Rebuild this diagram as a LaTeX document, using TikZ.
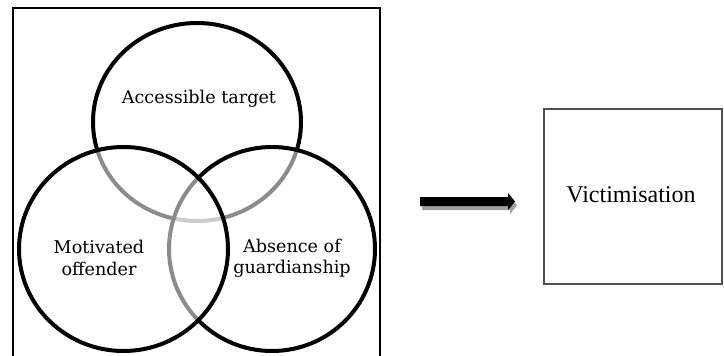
\documentclass[tikz,border=0pt]{standalone}
\usepackage{fontspec}
\setmainfont{Liberation Serif}
\newfontfamily\vennfont{DejaVu Serif}
\usetikzlibrary{shapes.geometric}

\begin{document}
\begin{tikzpicture}[x=0.75pt,y=0.75pt,yscale=-1,xscale=1,
  venn/.style={ellipse, draw, line width=3pt, fill=white, fill opacity=0.55, draw opacity=1, inner sep=0pt},
  vennlabel/.style={inner sep=0.75pt, align=center, font=\vennfont\fontsize{13.2}{16}\selectfont}]
\useasboundingbox (0,0) rectangle (724,356);
\clip (0,0) rectangle (724,356);

%Shape: Frame [id:frame]
\draw [line width=1.5pt] (13,370) -- (13,8) -- (380,8) -- (380,370) ;

%Shape: Circle [id:target]
\node [venn, minimum width=156pt, minimum height=148.5pt] (target) at (197,122) {};
%Shape: Circle [id:guardian]
\node [venn, minimum width=154.5pt, minimum height=153pt] (guardian) at (272,249) {};
%Shape: Circle [id:offender]
\node [venn, minimum width=156.75pt, minimum height=153pt] (offender) at (123.5,249) {};

% Text Node
\node [vennlabel] (targettext) at (199,99) {Accessible target};
% Text Node
\node [vennlabel] (offendertext) at (99,258) {Motivated\\offender};
% Text Node
\node [vennlabel] (guardiantext) at (292,258) {Absence of\\guardianship};

%Shape: Right Arrow [id:arrowshadow]
\fill [color={rgb, 255:red, 160; green, 160; blue, 160 }] (422,201) -- (510,201) -- (510,197) -- (517,205.5) -- (510,214) -- (510,210) -- (422,210) -- cycle ;
%Shape: Right Arrow [id:arrow]
\fill [black] (420,197) -- (508,197) -- (508,193) -- (515,201.5) -- (508,210) -- (508,206) -- (420,206) -- cycle ;

%Shape: Rectangle [id:victimbox]
\draw [color={rgb, 255:red, 80; green, 80; blue, 80 }, line width=2pt] (544,109) rectangle (722,284) ;
% Text Node
\node [inner sep=0.75pt, font=\fontsize{18}{22}\selectfont] (victimtext) at (631,195) {Victimisation};
\end{tikzpicture}
\end{document}
